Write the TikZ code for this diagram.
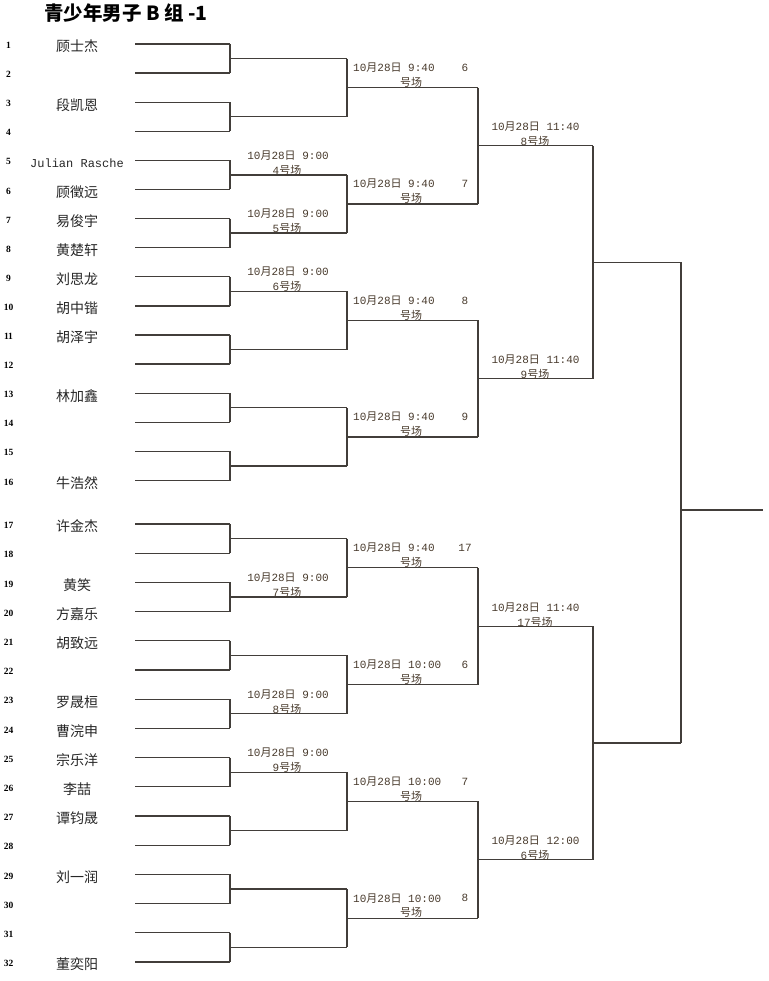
\documentclass[tikz,border=0pt]{standalone}
\usepackage{fontspec}
\setmainfont{Liberation Serif}
\newfontfamily\cjk{Noto Sans CJK SC}
\newfontfamily\mono{Liberation Mono}
\usetikzlibrary{calc}
\definecolor{linegray}{RGB}{66,62,58}
\definecolor{labelbrown}{RGB}{72,58,44}
\tikzset{x=1pt, y=-1pt,
  bline/.style={draw=linegray, line width=1.3pt},
  seedno/.style={inner sep=0pt, font=\fontsize{9.5}{9.5}\selectfont\bfseries},
  player/.style={inner sep=0pt, text=black!85, font=\cjk\fontsize{14}{14}\selectfont},
  when/.style={inner sep=0pt, text=labelbrown, font=\cjk\fontsize{11}{11}\selectfont}}
\newcommand{\matchday}[1]{{\mono 10}月{\mono 28}日{\mono\ #1}}
\newcommand{\court}[1]{{\mono #1}号场}

\begin{document}
\begin{tikzpicture}
\useasboundingbox (0,0) rectangle (768,981);
\node[font=\cjk\bfseries\fontsize{19.5}{19.5}\selectfont, inner sep=0pt] (title) at (126,13) {青少年男子 B 组 -1};

% seeds
\foreach \k in {1,...,32} {
  \pgfmathsetmacro\y{\k<17 ? 44+(\k-1)*29.1 : 524+(\k-17)*29.2}
  \coordinate (l\k) at (135,\y);
  \coordinate (s\k) at (230,\y);
  \node[seedno] (n\k) at (8.5,\y+1.5) {\k};
  \draw[bline] (l\k) -- (s\k);
}
\foreach \k/\who in {1/顾士杰, 3/段凯恩, 6/顾徵远, 7/易俊宇, 8/黄楚轩, 9/刘思龙,
  10/胡中锴, 11/胡泽宇, 13/林加鑫, 16/牛浩然, 17/许金杰, 19/黄笑, 20/方嘉乐,
  21/胡致远, 23/罗晟桓, 24/曹浣申, 25/宗乐洋, 26/李喆, 27/谭钧晟, 29/刘一润, 32/董奕阳}
  \node[player] (p\k) at ($(l\k)+(-58,2.5)$) {\who};
\node[player, font=\mono\fontsize{12}{12}\selectfont] (p5) at ($(l5)+(-58,2.5)$) {Julian Rasche};

% rounds
\foreach \i in {1,...,16} {
  \pgfmathtruncatemacro\j{2*\i-1}
  \pgfmathtruncatemacro\k{2*\i}
  \coordinate (a\i) at ($(s\j)!0.5!(s\k)+(117,0)$);
  \draw[bline] (s\j) -- (s\k) (s\j |- a\i) -- (a\i);
}
\foreach \i in {1,...,8} {
  \pgfmathtruncatemacro\j{2*\i-1}
  \pgfmathtruncatemacro\k{2*\i}
  \coordinate (b\i) at ($(a\j)!0.5!(a\k)+(131,0)$);
  \draw[bline] (a\j) -- (a\k) (a\j |- b\i) -- (b\i);
}
\foreach \i in {1,...,4} {
  \pgfmathtruncatemacro\j{2*\i-1}
  \pgfmathtruncatemacro\k{2*\i}
  \coordinate (c\i) at ($(b\j)!0.5!(b\k)+(115,0)$);
  \draw[bline] (b\j) -- (b\k) (b\j |- c\i) -- (c\i);
}
\foreach \i in {1,2} {
  \pgfmathtruncatemacro\j{2*\i-1}
  \pgfmathtruncatemacro\k{2*\i}
  \coordinate (d\i) at ($(c\j)!0.5!(c\k)+(88,0)$);
  \draw[bline] (c\j) -- (c\k) (c\j |- d\i) -- (d\i);
}
\coordinate (f) at (763,510);
\draw[bline] (d1) -- (d2) (d1 |- f) -- (f);

% match times
\foreach \i/\no in {3/4, 4/5, 5/6, 10/7, 12/8, 13/9} {
  \node[when] (ta\i) at ($(a\i)+(-59,-19.5)$) {\matchday{9:00}};
  \node[when] (ca\i) at ($(a\i)+(-60,-4.5)$) {\court{\no}};
}
\foreach \i/\hr/\no in {1/9:40/6, 2/9:40/7, 3/9:40/8, 4/9:40/9,
  5/9:40/17, 6/10:00/6, 7/10:00/7, 8/10:00/8} {
  \node[when, anchor=west] (tb\i) at ($(b\i)+(-125,-20)$) {\matchday{\hr}};
  \node[when, font=\mono\fontsize{11}{11}\selectfont] (nb\i) at ($(b\i)+(-13,-20)$) {\no};
  \node[when] (cb\i) at ($(b\i)+(-67,-5.5)$) {号场};
}
\foreach \i/\hr/\no in {1/11:40/8, 2/11:40/9, 3/11:40/17, 4/12:00/6} {
  \node[when] (tc\i) at ($(c\i)+(-57.5,-19)$) {\matchday{\hr}};
  \node[when] (cc\i) at ($(c\i)+(-58,-4)$) {\court{\no}};
}
\end{tikzpicture}
\end{document}
